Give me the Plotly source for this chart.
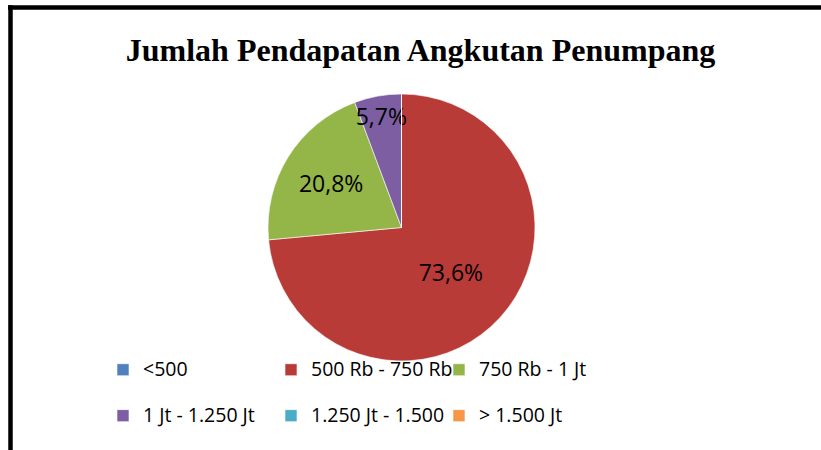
import plotly.graph_objects as go

# ---- data ----
categories = ["<500", "500 Rb - 750 Rb", "750 Rb - 1 Jt", "1 Jt - 1.250 Jt", "1.250 Jt - 1.500", "> 1.500 Jt"]
values = [0, 73.6, 20.8, 5.7, 0, 0]
colors = ["#4F81BD", "#B93B38", "#94B548", "#7D5EA3", "#4BACC6", "#F79646"]
title_text = "Jumlah Pendapatan Angkutan Penumpang"

W, H = 821, 450
ML, MR, MT, MB = 100, 100, 0, 0
PW, PH = W - ML - MR, H - MT - MB


def px_x(p):
    return (p - ML) / PW


def px_y(p):
    return 1 - (p - MT) / PH


slice_text = [("%.1f%%" % v).replace(".", ",") if v > 0 else "" for v in values]
legend_labels = ['<span style="font-size:19.5px">%s</span><br>\u00a0' % c for c in categories]

fig = go.Figure(go.Pie(
    labels=legend_labels,
    values=values,
    text=slice_text,
    textinfo="text",
    texttemplate="%{text}",
    textposition="inside",
    insidetextorientation="horizontal",
    insidetextfont=dict(family="Open Sans", size=23, color="#000000"),
    sort=False,
    direction="clockwise",
    rotation=0,
    marker=dict(colors=colors, line=dict(color="rgba(255,255,255,0.6)", width=1)),
    domain=dict(x=[px_x(268), px_x(535)], y=[px_y(361), px_y(94)]),
    hoverinfo="skip",
))

fig.update_layout(
    width=W, height=H,
    margin=dict(l=ML, r=MR, t=MT, b=MB, autoexpand=False),
    paper_bgcolor="white",
    plot_bgcolor="white",
    title=dict(text="<b>%s</b>" % title_text, xref="container", yref="container",
               x=420.5 / W, y=1 - 50 / H, xanchor="center", yanchor="middle",
               font=dict(family="Liberation Serif", size=32, color="#000000")),
    uniformtext=dict(minsize=23, mode="show"),
    showlegend=True,
    legend=dict(orientation="h", x=px_x(103), y=px_y(352.5), xanchor="left", yanchor="top",
                entrywidth=123, entrywidthmode="pixels", valign="top",
                font=dict(family="Open Sans", size=16.5, color="#000000"),
                bgcolor="rgba(0,0,0,0)", traceorder="normal"),
    shapes=[
        dict(type="line", xref="paper", yref="paper", x0=px_x(8), x1=px_x(830), y0=px_y(7.5), y1=px_y(7.5),
             line=dict(color="#000000", width=4.5)),
        dict(type="line", xref="paper", yref="paper", x0=px_x(10.5), x1=px_x(10.5), y0=px_y(5.3), y1=px_y(460),
             line=dict(color="#000000", width=4.5)),
    ],
)

fig.write_html("out.html", config={"displayModeBar": False},
               post_script="document.body.style.margin='0px';")
